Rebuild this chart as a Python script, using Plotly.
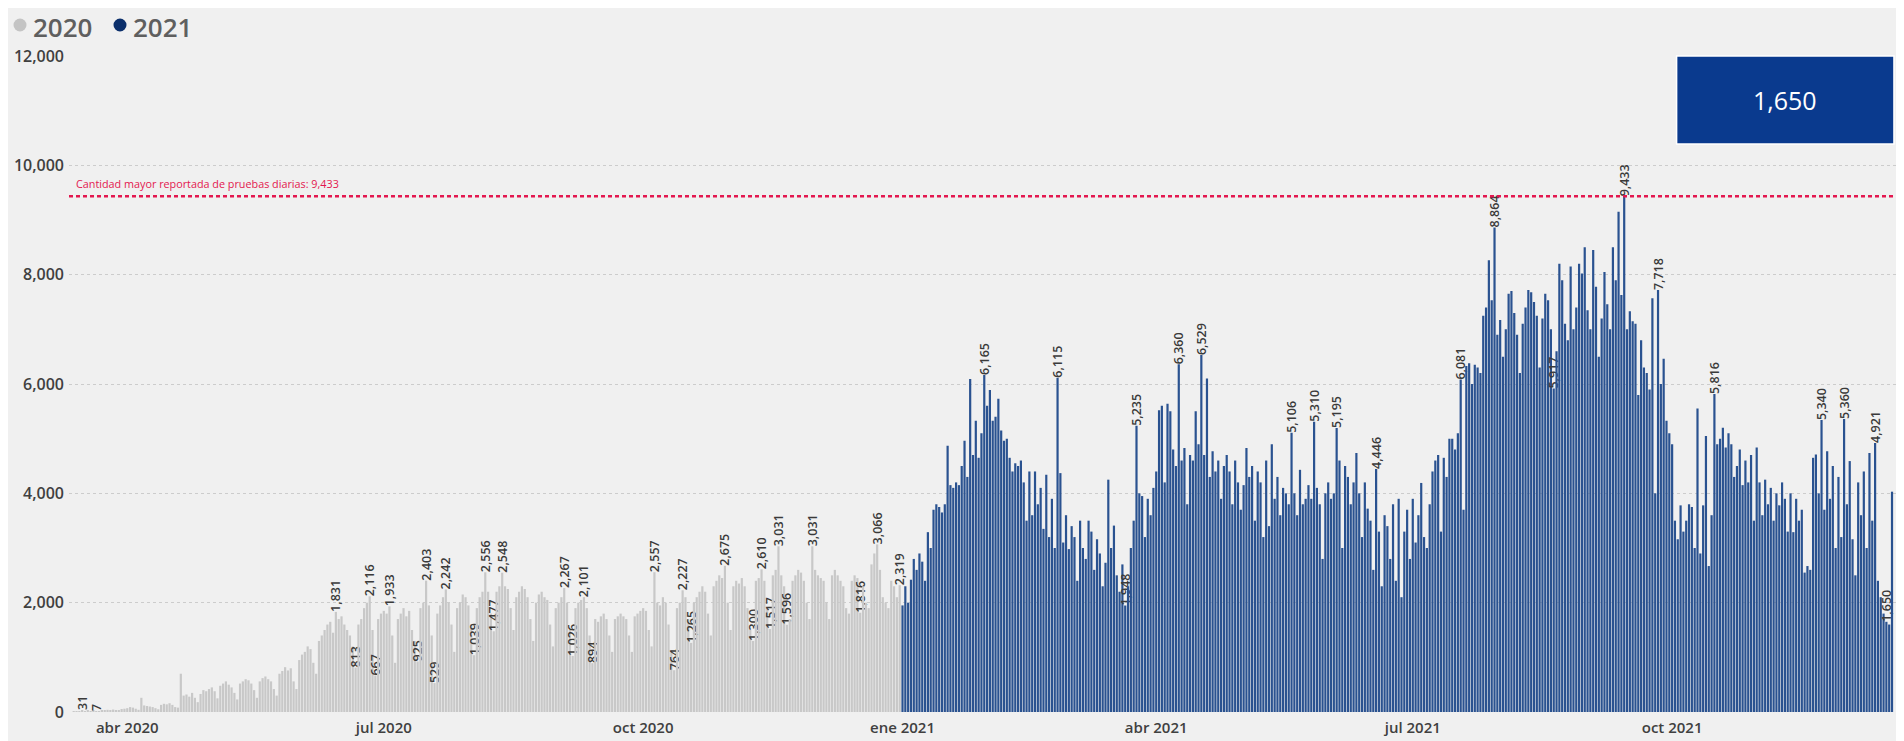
import plotly.graph_objects as go
import pandas as pd

# ---------------- data (daily tests) ----------------
start_2020 = "2020-03-13"
v2020_mar = [12, 8, 5, 31, 18, 22, 15, 20, 7, 10, 25, 30, 40, 35, 45, 30, 20, 55, 60]
v2020_apr = [70, 90, 80, 60, 40, 260, 120, 110, 100, 90, 70, 50, 130, 150, 140, 160, 130, 90, 80, 700,
             300, 320, 280, 350, 260, 180, 330, 400, 380, 420]
v2020_may = [450, 380, 250, 480, 520, 560, 500, 450, 350, 230, 520, 560, 600, 580, 520, 400, 260, 560,
             620, 650, 600, 560, 420, 300, 700, 750, 820, 760, 800, 560, 420]
v2020_jun = [950, 1050, 1100, 1200, 1150, 900, 700, 1300, 1400, 1500, 1600, 1650, 1450, 1831, 1700,
             1750, 1600, 1500, 1400, 1200, 813, 1600, 1700, 1900, 2000, 2116, 1500, 667, 1700, 1800]
v2020_jul = [1850, 1800, 1933, 1400, 900, 1700, 1800, 1900, 1750, 1850, 1500, 1300, 925, 1900, 2000,
             2403, 1950, 1400, 529, 1800, 1950, 2100, 2242, 2000, 1600, 1100, 1900, 2000, 2150, 2100, 1950]
v2020_aug = [1600, 1039, 1900, 2100, 2200, 2556, 2200, 1800, 1477, 2200, 2300, 2548, 2300, 2250, 1900,
             1500, 2100, 2200, 2300, 2250, 2100, 1700, 1300, 2000, 2150, 2200, 2100, 2050, 1600, 1200, 1900]
v2020_sep = [2000, 2100, 2267, 2000, 1500, 1026, 1900, 2000, 2050, 2101, 1900, 1400, 894, 1700, 1650,
             1750, 1800, 1700, 1400, 1100, 1700, 1750, 1800, 1750, 1700, 1400, 1100, 1750, 1800, 1850]
v2020_oct = [1900, 1850, 1500, 1200, 2557, 2000, 1950, 2100, 2000, 1600, 1100, 764, 1900, 2000, 2227,
             2100, 1700, 1265, 2000, 2100, 2200, 2300, 2200, 1800, 1400, 2300, 2400, 2500, 2450, 2675, 2000]
v2020_nov = [1500, 2300, 2400, 2350, 2450, 2300, 1900, 1500, 1300, 2400, 2450, 2610, 2400, 1900, 1517,
             2500, 2600, 3031, 2500, 2300, 1596, 1700, 2400, 2500, 2600, 2550, 2400, 2000, 1700, 3031]
v2020_dec = [2600, 2500, 2450, 2400, 2000, 1700, 2500, 2600, 2500, 2400, 2300, 1900, 1800, 2400, 2500,
             2450, 1816, 2300, 2000, 1900, 2700, 2900, 3066, 2600, 2100, 2000, 1900, 2400, 2300, 2100, 2319]

start_2021 = "2021-01-01"
v2021_jan = [1950, 2300, 2000, 2420, 2800, 2600, 2900, 2750, 2400, 3290, 3000, 3700, 3800, 3750, 3650,
             3800, 4870, 4150, 4100, 4200, 4150, 4500, 4960, 4300, 6090, 4700, 5330, 4650, 5100, 6165, 5600]
v2021_feb = [5890, 5330, 5400, 5730, 5150, 4960, 5000, 4650, 4400, 4550, 4500, 4600, 4200, 3500, 4400,
             3600, 4400, 3800, 4100, 3350, 4340, 3200, 3900, 3000, 6115, 4370, 3100, 3600]
v2021_mar = [2980, 3400, 3200, 2400, 3500, 3000, 2800, 3500, 3300, 2600, 3160, 2900, 2300, 2730, 4250,
             3000, 3410, 2500, 2200, 2700, 1948, 2300, 3000, 3500, 5235, 4000, 3950, 3200, 3900, 3600, 4100]
v2021_apr = [4400, 5520, 5600, 4200, 5640, 5500, 4800, 4500, 6360, 4600, 4830, 3800, 4700, 4600, 5500,
             4900, 6529, 4700, 6100, 4300, 4770, 4400, 4600, 3900, 4500, 4700, 4400, 3800, 4600, 4200]
v2021_may = [3700, 4150, 4830, 4300, 4500, 3500, 4400, 4200, 3200, 4600, 3400, 4900, 3900, 4300, 3600,
             4100, 4000, 3800, 5106, 4000, 3600, 4430, 3800, 3900, 4150, 3900, 5310, 4100, 3800, 2800, 4000]
v2021_jun = [4200, 3900, 4000, 5195, 4600, 3000, 4500, 4300, 3800, 4200, 4740, 4000, 3200, 4200, 3720,
             3500, 2600, 4446, 3300, 2300, 3600, 3400, 2800, 3800, 2400, 3900, 2100, 3300, 3700, 2800]
v2021_jul = [3900, 3100, 3600, 4190, 3200, 3000, 3800, 4400, 4600, 4700, 3300, 4650, 4300, 5000, 5000,
             4800, 5100, 6081, 3700, 6330, 6380, 6000, 6350, 6300, 6200, 7250, 7400, 8263, 7530, 8864, 6900]
v2021_aug = [7170, 6500, 7000, 7650, 7700, 7300, 6900, 6200, 7100, 7400, 7720, 7680, 7500, 7250, 6300,
             7200, 7650, 7530, 7000, 5917, 6600, 8200, 7900, 7100, 6800, 8150, 7000, 7400, 8200, 8020, 8500]
v2021_sep = [7350, 7000, 8450, 7780, 6500, 7200, 8050, 7460, 7000, 8500, 7900, 9150, 7630, 9433, 7000,
             7330, 7150, 7100, 5800, 6800, 6300, 6200, 5900, 7570, 4000, 7718, 6000, 6460, 5330, 5100]
v2021_oct = [4900, 3500, 3160, 3780, 3300, 3500, 3800, 3750, 3000, 5550, 2900, 3780, 5050, 2670, 3600,
             5816, 4900, 5000, 5200, 4840, 5100, 4900, 4300, 4500, 4800, 4150, 4600, 4200, 4700, 3500, 4840]
v2021_nov = [4200, 3600, 4250, 3800, 4100, 3500, 4000, 3780, 4200, 3900, 3300, 4000, 3290, 3900, 3500,
             3700, 2550, 2670, 2600, 4650, 4710, 4000, 5340, 3700, 4770, 3900, 4500, 3000, 4300, 3200]
v2021_dec = [5360, 3800, 4590, 3160, 2500, 4200, 3600, 4400, 3000, 4740, 3500, 4921, 2400, 2100, 1800,
             1650, 1600, 4030]

labels_2020 = ["2020-03-16", "2020-03-21", "2020-06-14", "2020-06-21", "2020-06-26", "2020-06-28",
               "2020-07-03", "2020-07-13", "2020-07-16", "2020-07-19", "2020-07-23", "2020-08-02",
               "2020-08-06", "2020-08-09", "2020-08-12", "2020-09-03", "2020-09-06", "2020-09-10",
               "2020-09-13", "2020-10-05", "2020-10-12", "2020-10-15", "2020-10-18", "2020-10-30",
               "2020-11-09", "2020-11-12", "2020-11-15", "2020-11-18", "2020-11-21", "2020-11-30",
               "2020-12-17", "2020-12-23", "2020-12-31"]
labels_2021 = ["2021-01-30", "2021-02-25", "2021-03-21", "2021-03-25", "2021-04-09", "2021-04-17",
               "2021-05-19", "2021-05-27", "2021-06-04", "2021-06-18", "2021-07-18", "2021-07-30",
               "2021-08-20", "2021-09-14", "2021-09-26", "2021-10-16", "2021-11-23", "2021-12-01",
               "2021-12-12", "2021-12-16"]

series_names = ["2020", "2021"]
max_value = 9433
card_value = 1650
tick_dates = ["2020-04-01", "2020-07-01", "2020-10-01", "2021-01-01", "2021-04-01", "2021-07-01", "2021-10-01"]
tick_text = ["abr 2020", "jul 2020", "oct 2020", "ene 2021", "abr 2021", "jul 2021", "oct 2021"]

# ---------------- build ----------------
vals2020 = v2020_mar + v2020_apr + v2020_may + v2020_jun + v2020_jul + v2020_aug + v2020_sep + v2020_oct + v2020_nov + v2020_dec
vals2021 = v2021_jan + v2021_feb + v2021_mar + v2021_apr + v2021_may + v2021_jun + v2021_jul + v2021_aug + v2021_sep + v2021_oct + v2021_nov + v2021_dec
d2020 = pd.date_range(start_2020, periods=len(vals2020), freq="D")
d2021 = pd.date_range(start_2021, periods=len(vals2021), freq="D")

def make_text(dates, vals, labelled):
    s = set(pd.to_datetime(labelled))
    return [f"{v:,}" if d in s else "" for d, v in zip(dates, vals)]

FONT = "Open Sans"
GRAY = "#c8c8c8"
BLUE = "#2a5290"
NAVY = "#0b2f6b"
LABEL_FONT = dict(family=FONT, size=12.5, color="#3a3a3a", weight=600)

# page has an 8px body margin; figure is sized/offset to compensate
W, H = 1896, 733
ML, MR, MT, MB = 61, 4, 48, 29
PW, PH = W - ML - MR, H - MT - MB

def px(fx):  # figure x pixel -> paper
    return (fx - ML) / PW

def py(fy):  # figure y pixel -> paper
    return (H - MB - fy) / PH

fig = go.Figure()
fig.add_trace(go.Bar(x=d2020, y=vals2020, name=series_names[0], marker=dict(color=GRAY, line=dict(width=0)),
                     text=make_text(d2020, vals2020, labels_2020), textposition="outside",
                     textangle=-90, constraintext="none", cliponaxis=False,
                     textfont=LABEL_FONT, showlegend=False, hoverinfo="x+y"))
fig.add_trace(go.Bar(x=d2021, y=vals2021, name=series_names[1], marker=dict(color=BLUE, line=dict(width=0)),
                     text=make_text(d2021, vals2021, labels_2021), textposition="outside",
                     textangle=-90, constraintext="none", cliponaxis=False,
                     textfont=LABEL_FONT, showlegend=False, hoverinfo="x+y"))

# custom legend (dot + label)
for name, col, dot_x, txt_x in [(series_names[0], "#c4c4c4", 12, 24), (series_names[1], NAVY, 112, 124)]:
    fig.add_shape(type="circle", xref="paper", yref="paper", xsizemode="pixel", ysizemode="pixel",
                  xanchor=px(dot_x), yanchor=py(17), x0=-6.5, x1=6.5, y0=-6.5, y1=6.5,
                  fillcolor=col, line=dict(width=0))
    fig.add_annotation(xref="paper", yref="paper", x=px(txt_x), y=py(0), xanchor="left", yanchor="top",
                       showarrow=False, text=name, borderpad=0,
                       font=dict(family=FONT, size=26, color="#5f5f5f", weight=600))

# reference line
fig.add_shape(type="line", xref="paper", x0=0, x1=1, yref="y", y0=max_value, y1=max_value,
              line=dict(color="#e3174f", width=2.5, dash="4px,3px"))
fig.add_annotation(xref="paper", x=0.003, yref="y", y=max_value, yanchor="bottom", xanchor="left",
                   yshift=3, showarrow=False,
                   text=f"Cantidad mayor reportada de pruebas diarias: {max_value:,}",
                   font=dict(family=FONT, size=10.8, color="#e3174f"))

# card
fig.add_shape(type="rect", xref="paper", yref="paper", x0=0.878, x1=0.9967, y0=0.866, y1=1.0,
              fillcolor="#0a3a8e", line=dict(color="#ffffff", width=1.5), layer="above")
fig.add_annotation(xref="paper", yref="paper", x=(0.878 + 0.9967) / 2, y=0.933,
                   xanchor="center", yanchor="middle", showarrow=False,
                   text=f"{card_value:,}", font=dict(family=FONT, size=25, color="#ffffff"))

fig.update_layout(
    width=W, height=H,
    margin=dict(l=ML, r=MR, t=MT, b=MB, autoexpand=False),
    paper_bgcolor="#f0f0f0", plot_bgcolor="#f0f0f0",
    barmode="overlay", bargap=0.22, showlegend=False,
    font=dict(family=FONT, color="#444444"),
    xaxis=dict(type="date", range=["2020-03-11 08:00", "2021-12-20 20:00"],
               tickvals=tick_dates, ticktext=tick_text, showgrid=False, zeroline=False,
               showline=False, ticks="", ticklabelstandoff=5, automargin=False,
               tickfont=dict(family=FONT, size=15, color="#404040", weight=600)),
    yaxis=dict(range=[0, 12000], tickvals=list(range(0, 12001, 2000)), tickformat=",",
               showgrid=True, gridcolor="#cccccc", griddash="dot", gridwidth=1,
               zeroline=False, showline=False, ticks="", automargin=False, ticklabelstandoff=4,
               tickfont=dict(family=FONT, size=16, color="#404040", weight=600)),
    uniformtext=dict(mode=False),
)

fig.write_html("out.html")
